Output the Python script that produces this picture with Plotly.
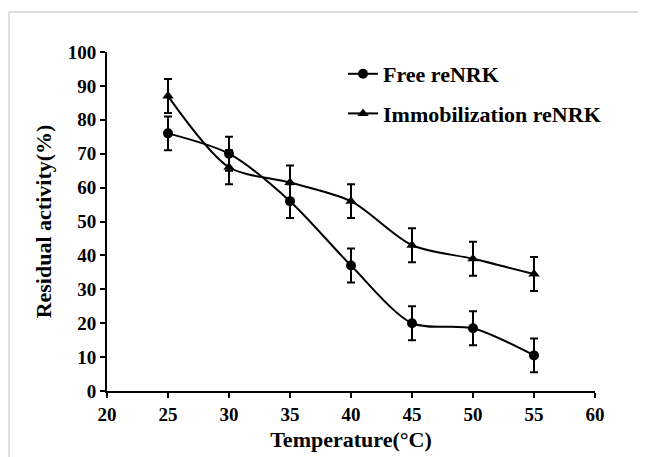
import plotly.graph_objects as go

temperature = [25, 30, 35, 40, 45, 50, 55]
free_activity = [76, 70, 56, 37, 20, 18.5, 10.5]
free_error = [5, 5, 5, 5, 5, 5, 5]
immob_activity = [87, 66, 61.5, 56, 43, 39, 34.5]
immob_error = [5, 5, 5, 5, 5, 5, 5]

x_ticks = [20, 25, 30, 35, 40, 45, 50, 55, 60]
y_ticks = [0, 10, 20, 30, 40, 50, 60, 70, 80, 90, 100]

FONT = "Liberation Serif"

fig = go.Figure()
fig.add_trace(go.Scatter(
    x=temperature, y=free_activity, name="Free reNRK", legendgroup="a",
    mode="lines+markers",
    line=dict(color="black", width=2, shape="spline", smoothing=0.8),
    marker=dict(symbol="circle", size=10, color="black"),
    error_y=dict(type="data", array=free_error, color="black", thickness=2, width=4),
))
fig.add_trace(go.Scatter(
    x=temperature, y=immob_activity, name="Immobilization reNRK", legendgroup="b",
    mode="lines+markers",
    line=dict(color="black", width=2, shape="spline", smoothing=0.8),
    marker=dict(symbol="triangle-up", size=10, color="black"),
    error_y=dict(type="data", array=immob_error, color="black", thickness=2, width=4),
))

# page body has an 8px margin; figure sized to fill the rest of the window
OFF = 8
W, H = 646 - OFF, 457 - OFF
# plot area in window pixels: x 107..595, y 52..391
L = 107 - OFF
R = W - (595 - OFF)
T = 52 - OFF
B = H - (391 - OFF)
pw, ph = W - L - R, H - T - B

def px_x(p):
    return (p - OFF - L) / pw

def px_y(p):
    return (H - B - (p - OFF)) / ph

fig.update_layout(
    width=W, height=H,
    margin=dict(l=L, r=R, t=T, b=B, autoexpand=False),
    paper_bgcolor="white", plot_bgcolor="white",
    font=dict(family=FONT, color="black", size=19, weight="bold"),
    showlegend=True,
    legend=dict(
        x=px_x(343), y=px_y(53), xanchor="left", yanchor="top",
        font=dict(family=FONT, size=22, color="black", weight="bold"),
        bgcolor="rgba(0,0,0,0)", traceorder="grouped", tracegroupgap=8,
        itemwidth=30,
    ),
    xaxis=dict(
        range=[20, 60], tickvals=x_ticks, ticktext=[str(v) for v in x_ticks],
        showline=True, linecolor="black", linewidth=2,
        ticks="outside", ticklen=5, tickwidth=2, tickcolor="black",
        showgrid=False, zeroline=False, automargin=False,
        tickfont=dict(family=FONT, size=19, weight="bold"),
        title=dict(text="Temperature(°C)", font=dict(family=FONT, size=22, weight="bold"), standoff=8),
    ),
    yaxis=dict(
        range=[0, 100], tickvals=y_ticks, ticktext=[str(v) for v in y_ticks],
        showline=True, linecolor="black", linewidth=2,
        ticks="outside", ticklen=5, tickwidth=2, tickcolor="black",
        showgrid=False, zeroline=False, automargin=False,
        tickfont=dict(family=FONT, size=19, weight="bold"),
        title=dict(text="Residual activity(%)", font=dict(family=FONT, size=22, weight="bold"), standoff=10),
    ),
    shapes=[
        dict(type="line", xref="paper", yref="paper", x0=px_x(9), x1=px_x(660), y0=px_y(12), y1=px_y(12),
             line=dict(color="#d4d4d4", width=1.5)),
        dict(type="line", xref="paper", yref="paper", x0=px_x(9), x1=px_x(9), y0=px_y(12), y1=px_y(470),
             line=dict(color="#d4d4d4", width=1.5)),
    ],
)

fig.write_html("out.html")
